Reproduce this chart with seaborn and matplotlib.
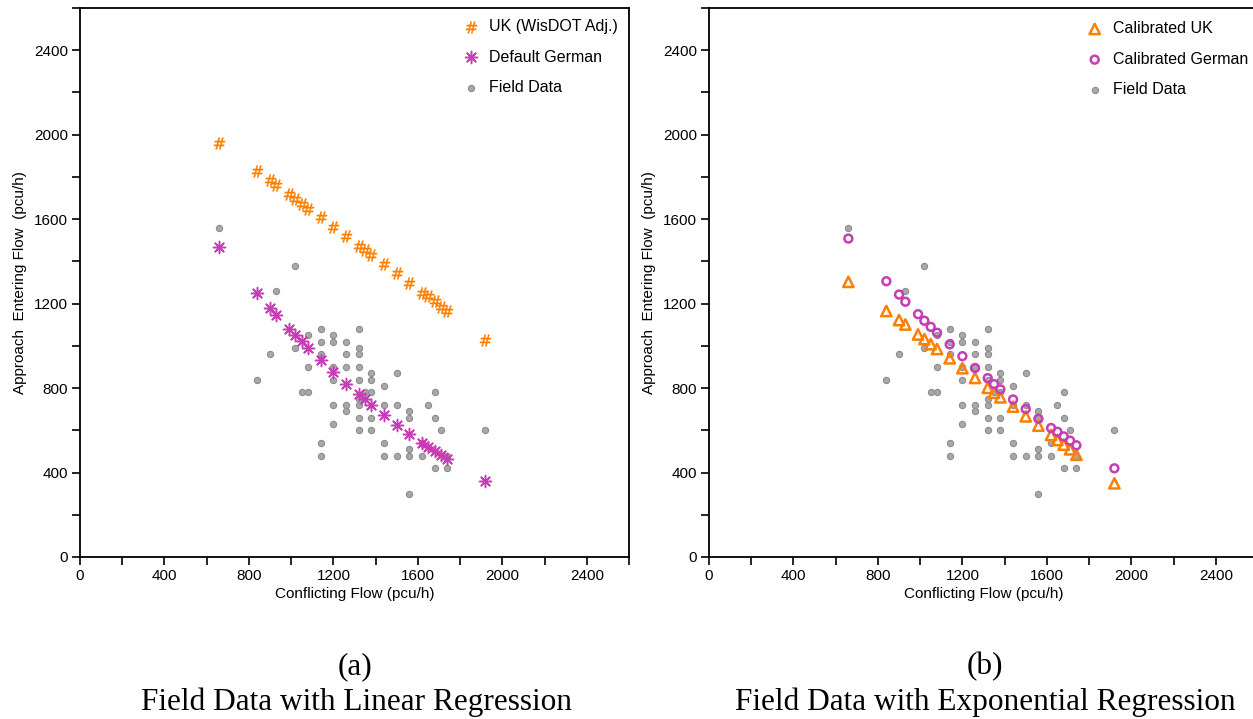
import numpy as np
import matplotlib
matplotlib.use("Agg")
import matplotlib.pyplot as plt
import seaborn as sns

# conflicting flows at which the models were evaluated (pcu/h)
model_conflict = [660, 840, 900, 930, 990, 1020, 1050, 1080, 1140, 1200, 1260, 1320,
                  1350, 1380, 1440, 1500, 1560, 1620, 1650, 1680, 1710, 1740, 1920]

# (a) linear regression models
uk_wisdot = [1960, 1830, 1785, 1760, 1718, 1697, 1674, 1650, 1608, 1564, 1520, 1475,
             1453, 1430, 1387, 1343, 1298, 1251, 1234, 1212, 1186, 1164, 1030]
german_default = [1467, 1249, 1180, 1146, 1081, 1051, 1021, 991, 931, 877, 820, 770,
                  746, 721, 672, 626, 582, 541, 522, 503, 483, 464, 361]

# (b) exponential regression models
calibrated_uk = [1303, 1165, 1122, 1101, 1054, 1032, 1008, 985, 941, 894, 848, 801,
                 778, 756, 712, 666, 622, 578, 554, 532, 510, 484, 349]
calibrated_german = [1508, 1306, 1243, 1209, 1150, 1119, 1090, 1062, 1007, 951, 895, 847,
                     819, 794, 746, 701, 655, 611, 593, 571, 551, 529, 420]

# field observations
field_conflict = [660, 1020, 930,
                  1140, 1320, 1080, 1200, 1140, 1200, 1260, 1020, 1320,
                  900, 1140, 1260, 1320, 1080, 1200, 1260, 1320,
                  1380, 1500, 840, 1200, 1320, 1380, 1440,
                  1050, 1080, 1350, 1380, 1680, 1320,
                  1200, 1260, 1320, 1440, 1500, 1650, 1260, 1560,
                  1320, 1380, 1560, 1680, 1200,
                  1320, 1380, 1710, 1920, 1140, 1440, 1620, 1560,
                  1140, 1440, 1500, 1560, 1620, 1740, 1680, 1740, 1560]
field_entering = [1560, 1380, 1260,
                  1080, 1080, 1050, 1050, 1020, 1020, 1020, 990, 990,
                  960, 960, 960, 960, 900, 900, 900, 900,
                  870, 870, 840, 840, 840, 840, 810,
                  780, 780, 780, 780, 780, 750,
                  720, 720, 720, 720, 720, 720, 690, 690,
                  660, 660, 660, 660, 630,
                  600, 600, 600, 600, 540, 540, 540, 510,
                  480, 480, 480, 480, 480, 480, 420, 420, 300]

ticks = np.arange(0, 2601, 200)
tick_labels = [str(t) if t % 400 == 0 else "" for t in ticks]

ORANGE = "#FF8000"
MAGENTA = "#C63DB6"
GRAY = "#A8A8A8"
GRAY_EDGE = "#8C8C8C"

sns.set_style("ticks")
plt.rcParams["font.family"] = ["Liberation Sans", "DejaVu Sans"]
plt.rcParams["text.color"] = "black"
plt.rcParams["axes.labelcolor"] = "black"

fig = plt.figure(figsize=(12.53, 7.19), dpi=100)
ax1 = fig.add_axes([80 / 1253, 1 - 557 / 719, 549 / 1253, 549 / 719])
ax2 = fig.add_axes([709 / 1253, 1 - 557 / 719, 549 / 1253, 549 / 719])


def style_axes(ax):
    ax.set_xlim(0, 2600)
    ax.set_ylim(0, 2600)
    ax.set_xticks(ticks)
    ax.set_xticklabels(tick_labels)
    ax.set_yticks(ticks)
    ax.set_yticklabels(tick_labels)
    ax.tick_params(direction="out", length=5.5, width=1.2, labelsize=11, pad=3, colors="black")
    for sp in ax.spines.values():
        sp.set_visible(True)
        sp.set_linewidth(1.3)
        sp.set_color("black")
    ax.set_xlabel("Conflicting Flow (pcu/h)", fontsize=11, labelpad=3)
    ax.set_ylabel("Approach  Entering Flow  (pcu/h)", fontsize=11, labelpad=5)


def add_legend(ax, anchor):
    h, l = ax.get_legend_handles_labels()
    order = [1, 2, 0]  # model series first, field data last
    ax.legend([h[i] for i in order], [l[i] for i in order], loc="upper left",
              bbox_to_anchor=anchor, frameon=False, fontsize=11.5, borderpad=0,
              borderaxespad=0, handlelength=1.0, handletextpad=0.65, labelspacing=0.98)


# Plot A: linear regression
sns.scatterplot(x=field_conflict, y=field_entering, color=GRAY, edgecolor=GRAY_EDGE,
                linewidth=0.8, s=20, ax=ax1, label="Field Data", zorder=2)
sns.scatterplot(x=model_conflict, y=uk_wisdot, marker=r"$\#$", color=ORANGE,
                edgecolor=ORANGE, linewidth=0.3, s=70, ax=ax1, label="UK (WisDOT Adj.)", zorder=3)
sns.scatterplot(x=model_conflict, y=german_default, marker=(8, 2, 0), color=MAGENTA,
                linewidth=1.1, s=75, ax=ax1, label="Default German", zorder=3)
style_axes(ax1)
add_legend(ax1, (0.697, 0.980))

# Plot B: exponential regression
sns.scatterplot(x=field_conflict, y=field_entering, color=GRAY, edgecolor=GRAY_EDGE,
                linewidth=0.8, s=20, ax=ax2, label="Field Data", zorder=2)
sns.scatterplot(x=model_conflict, y=calibrated_uk, marker="^", facecolor="none",
                edgecolor=ORANGE, linewidth=1.8, s=55, ax=ax2, label="Calibrated UK", zorder=3)
sns.scatterplot(x=model_conflict, y=calibrated_german, marker="o", facecolor="none",
                edgecolor=MAGENTA, linewidth=1.8, s=32, ax=ax2, label="Calibrated German", zorder=3)
style_axes(ax2)
add_legend(ax2, (0.688, 0.976))

# captions
cap_font = ["Liberation Serif", "DejaVu Serif"]
fig.text(355 / 1253, 1 - 667 / 719, "(a)", ha="center", va="center", fontsize=22.5, family=cap_font)
fig.text(357 / 1253, 1 - 702 / 719, "Field Data with Linear Regression", ha="center",
         va="center", fontsize=22.5, family=cap_font)
fig.text(985 / 1253, 1 - 667 / 719, "(b)", ha="center", va="center", fontsize=22.5, family=cap_font)
fig.text(985 / 1253, 1 - 702 / 719, "Field Data with Exponential Regression", ha="center",
         va="center", fontsize=22.5, family=cap_font)

fig.savefig("out.png", dpi=100)
